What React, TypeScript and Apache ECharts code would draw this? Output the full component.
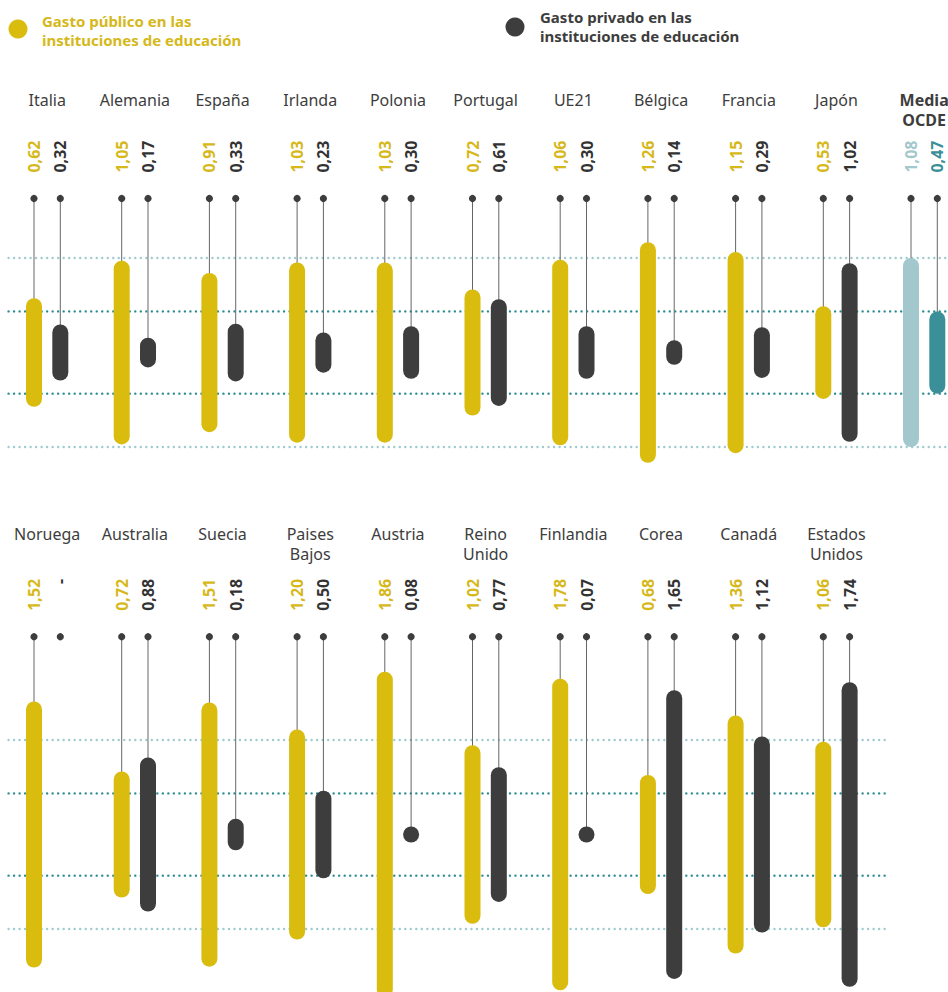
import React, { useEffect, useRef } from "react";
import * as echarts from "echarts";

// ---------- data ----------
const row1Countries = ["Italia", "Alemania", "España", "Irlanda", "Polonia", "Portugal", "UE21", "Bélgica", "Francia", "Japón", "Media\nOCDE"];
const row1Public = [0.62, 1.05, 0.91, 1.03, 1.03, 0.72, 1.06, 1.26, 1.15, 0.53, 1.08];
const row1Private = [0.32, 0.17, 0.33, 0.23, 0.3, 0.61, 0.3, 0.14, 0.29, 1.02, 0.47];

const row2Countries = ["Noruega", "Australia", "Suecia", "Paises\nBajos", "Austria", "Reino\nUnido", "Finlandia", "Corea", "Canadá", "Estados\nUnidos"];
const row2Public = [1.52, 0.72, 1.51, 1.2, 1.86, 1.02, 1.78, 0.68, 1.36, 1.06];
const row2Private: (number | null)[] = [null, 0.88, 0.18, 0.5, 0.08, 0.77, 0.07, 1.65, 1.12, 1.74];

const legendPublic = "Gasto público en las\ninstituciones de educación";
const legendPrivate = "Gasto privado en las\ninstituciones de educación";

const OECD_INDEX = row1Countries.length - 1;
const oecdPublic = row1Public[OECD_INDEX];
const oecdPrivate = row1Private[OECD_INDEX];

// ---------- style / layout ----------
const W = 948;
const H = 992;
const K = 175; // px per unit
const ROW1 = { center: 352.5, top: 0.88, bottom: -0.9, nameOffset: 109 };
const ROW2 = { center: 834.5, top: 1.13, bottom: -0.9, nameOffset: 113 };
const X_ORIGIN = 34;
const X_STEP = 87.7;
const PRIV_OFFSET = 0.3;
const BAR_W = 16;

const YELLOW = "#d9bc0d";
const YELLOW_TEXT = "#d6b81a";
const DARK = "#3d3d3d";
const OECD_LIGHT = "#a2c7cc";
const OECD_TEAL = "#3a8f98";
const DOT_LIGHT = "#9ecbd0";
const DOT_DARK = "#2b8b94";
const STEM = "#666666";
const FONT = '"Noto Sans", "Open Sans", sans-serif';

const fmt = (v: number | null) => (v == null ? "-" : v.toFixed(2).replace(".", ","));

function barSeries(
  gridIdx: number,
  names: string[],
  values: (number | null)[],
  isPublic: boolean,
  row: { top: number; nameOffset: number }
) {
  const offset = isPublic ? 0 : PRIV_OFFSET;
  const dotTop = row.top;
  const data = values.map((v, i) => {
    const oecd = gridIdx === 0 && i === OECD_INDEX;
    const color = isPublic ? (oecd ? OECD_LIGHT : YELLOW) : oecd ? OECD_TEAL : DARK;
    return { value: [i + offset, v == null ? 0 : v], itemStyle: { color } };
  });
  return {
    type: "custom",
    xAxisIndex: gridIdx,
    yAxisIndex: gridIdx,
    silent: true,
    clip: false,
    z: 5,
    data,
    renderItem: (params: any, api: any) => {
      const i = params.dataIndex;
      const raw = values[i];
      const x = api.value(0);
      const color = api.visual("color");
      const [cx, dotY] = api.coord([x, dotTop]);
      const children: any[] = [];
      if (raw != null) {
        const pTop = api.coord([x, raw / 2]);
        const pBot = api.coord([x, -raw / 2]);
        let y0 = pTop[1];
        let h = pBot[1] - pTop[1];
        if (h < BAR_W) {
          const mid = (pTop[1] + pBot[1]) / 2;
          h = BAR_W;
          y0 = mid - BAR_W / 2;
        }
        children.push({
          type: "line",
          shape: { x1: cx, y1: dotY, x2: cx, y2: y0 + 2 },
          style: { stroke: STEM, lineWidth: 1 },
        });
        children.push({
          type: "rect",
          shape: { x: cx - BAR_W / 2, y: y0, width: BAR_W, height: h, r: BAR_W / 2 },
          style: { fill: color },
        });
      }
      children.push({
        type: "circle",
        shape: { cx, cy: dotY, r: 3.6 },
        style: { fill: DARK },
      });
      // value label (rotated)
      children.push({
        type: "text",
        x: cx,
        y: dotY - 58,
        rotation: Math.PI / 2,
        style: {
          text: fmt(raw),
          fill: isPublic ? (color === YELLOW ? YELLOW_TEXT : color) : color === DARK ? "#333333" : color,
          font: `bold 16px ${FONT}`,
          align: "right",
          verticalAlign: "middle",
          textAlign: "right",
          textVerticalAlign: "middle",
        },
      });
      if (isPublic) {
        const colX = api.coord([x + PRIV_OFFSET / 2, dotTop])[0];
        const oecd = gridIdx === 0 && i === OECD_INDEX;
        children.push({
          type: "text",
          x: colX,
          y: dotY - row.nameOffset,
          style: {
            text: names[i],
            fill: "#3d3d3d",
            font: `${oecd ? "bold " : ""}16px ${FONT}`,
            lineHeight: 20,
            align: "center",
            verticalAlign: "top",
            textAlign: "center",
            textVerticalAlign: "top",
          },
        });
      }
      return { type: "group", children };
    },
  };
}

function refLineSeries(gridIdx: number, n: number) {
  const xStart = -0.29;
  const xEnd = n - 0.3;
  const levels = [
    { y: oecdPublic / 2, c: DOT_LIGHT },
    { y: -oecdPublic / 2, c: DOT_LIGHT },
    { y: oecdPrivate / 2, c: DOT_DARK },
    { y: -oecdPrivate / 2, c: DOT_DARK },
  ];
  return {
    type: "custom",
    xAxisIndex: gridIdx,
    yAxisIndex: gridIdx,
    silent: true,
    clip: false,
    z: 1,
    data: levels.map((l) => ({ value: [xStart, l.y], itemStyle: { color: l.c } })),
    renderItem: (params: any, api: any) => {
      const y = api.value(1);
      const p0 = api.coord([xStart, y]);
      const p1 = api.coord([xEnd, y]);
      return {
        type: "line",
        shape: { x1: p0[0], y1: p0[1], x2: p1[0], y2: p1[1] },
        style: {
          stroke: api.visual("color"),
          lineWidth: 2.4,
          lineDash: [0.01, 5.5],
          lineCap: "round",
        },
      };
    },
  };
}

export default function App() {
  const ref = useRef<HTMLDivElement>(null);
  useEffect(() => {
    if (!ref.current) return;
    const chart = echarts.init(ref.current, undefined, { renderer: "svg" });
    const xMin = -X_ORIGIN / X_STEP;
    const xMax = (W - X_ORIGIN) / X_STEP;
    const rows = [ROW1, ROW2];
    const option: any = {
      animation: false,
      backgroundColor: "#ffffff",
      grid: rows.map((r) => ({
        left: 0,
        width: W,
        top: r.center - K * r.top,
        height: K * (r.top - r.bottom),
        containLabel: false,
      })),
      xAxis: rows.map((_, i) => ({ type: "value", gridIndex: i, min: xMin, max: xMax, show: false })),
      yAxis: rows.map((r, i) => ({ type: "value", gridIndex: i, min: r.bottom, max: r.top, show: false })),
      series: [
        refLineSeries(0, row1Countries.length),
        refLineSeries(1, row2Countries.length),
        barSeries(0, row1Countries, row1Public, true, ROW1),
        barSeries(0, row1Countries, row1Private, false, ROW1),
        barSeries(1, row2Countries, row2Public, true, ROW2),
        barSeries(1, row2Countries, row2Private, false, ROW2),
      ],
      graphic: [
        { type: "circle", shape: { cx: 18, cy: 29, r: 9.5 }, style: { fill: YELLOW } },
        {
          type: "text",
          x: 42,
          y: 11,
          style: { text: legendPublic, fill: YELLOW_TEXT, font: `bold 15px ${FONT}`, lineHeight: 19 },
        },
        { type: "circle", shape: { cx: 515, cy: 27, r: 9.5 }, style: { fill: DARK } },
        {
          type: "text",
          x: 540,
          y: 7,
          style: { text: legendPrivate, fill: DARK, font: `bold 15px ${FONT}`, lineHeight: 19 },
        },
      ],
    };
    chart.setOption(option);
    return () => chart.dispose();
  }, []);
  return <div ref={ref} style={{ position: "absolute", left: 0, top: 0, width: W, height: H }} />;
}
